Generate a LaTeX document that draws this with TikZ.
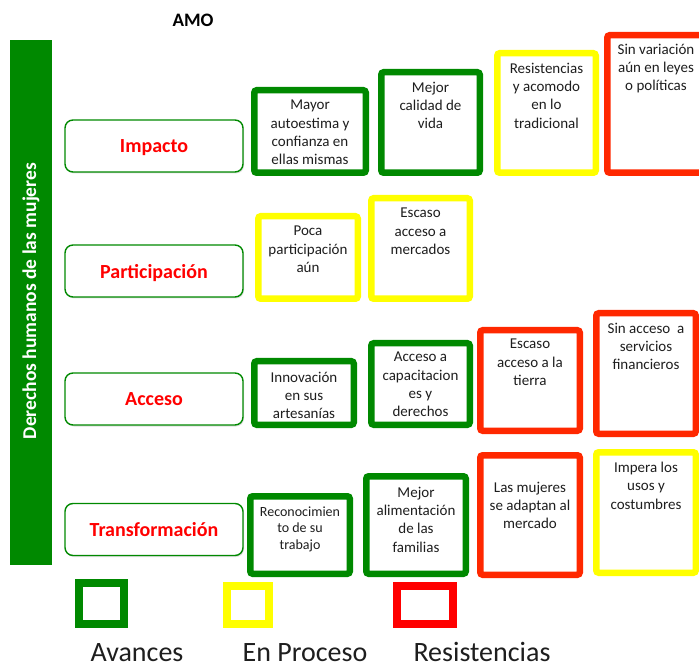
\documentclass[tikz,border=0pt]{standalone}
\usepackage{fontspec}
\setmainfont{Carlito}
\usetikzlibrary{shadows}
\definecolor{cgreen}{RGB}{0,137,0}
\definecolor{cyellow}{RGB}{255,255,0}
\definecolor{cred}{RGB}{255,40,0}
\definecolor{lred}{RGB}{255,0,0}
\definecolor{ctext}{RGB}{30,30,30}
\tikzset{
  sbox/.style={draw=#1, line width=6.5pt, rounded corners=2.5pt, inner sep=0pt, fill=white},
  btext/.style={anchor=north, inner sep=0pt, align=center, text=ctext,
    font=\fontsize{15}{18.2}\selectfont, execute at begin node=\strut},
  btextsm/.style={btext, font=\fontsize{14}{16.6}\selectfont},
  catbox/.style={draw=cgreen, line width=1.4pt, rounded corners=8pt, fill=white,
    minimum width=178pt, minimum height=52pt, inner sep=0pt, text depth=0pt,
    text=lred, font=\bfseries\fontsize{20}{24}\selectfont,
    drop shadow={shadow xshift=1pt, shadow yshift=-1.5pt, opacity=0.25}},
  legbox/.style={draw=#1, line width=8pt, inner sep=0pt},
  legtext/.style={anchor=base, inner sep=0pt, text depth=0pt, text=ctext, font=\fontsize{28}{34}\selectfont}
}
\begin{document}
\begin{tikzpicture}[x=1pt,y=-1pt]
\useasboundingbox (0,0) rectangle (699,668);
\clip (0,0) rectangle (699,668);
% title
\node[inner sep=0pt, font=\bfseries\fontsize{19}{22}\selectfont] (amo) at (193,20) {AMO};
% green bar
\fill[cgreen] (10,40) rectangle (52,565);
\node[rotate=90, inner sep=0pt, text=white, font=\bfseries\fontsize{19.5}{22}\selectfont] (bar) at (31,301) {Derechos humanos de las mujeres};
% categories
\node[catbox] (cimp) at (154,146) {Impacto};
\node[catbox] (cpar) at (154,271) {Participación};
\node[catbox] (cacc) at (154,399) {Acceso};
\node[catbox] (ctra) at (154,529.5) {Transformación};
% Impacto row
\node[sbox=cgreen, minimum width=111.5pt, minimum height=82.5pt] (i1) at (310,131.5) {};
\node[btext] (i1t) at (310,105-5) {Mayor\\autoestima y\\confianza en\\ellas mismas};
\node[sbox=cgreen, minimum width=98.5pt, minimum height=100.5pt] (i2) at (430.5,122.5) {};
\node[btext] (i2t) at (430.5,87-5) {Mejor\\calidad de\\vida};
\node[sbox=cyellow, minimum width=98.5pt, minimum height=119.5pt] (i3) at (546.5,113) {};
\node[btext] (i3t) at (546.5,68-5) {Resistencias\\y acomodo\\en lo\\tradicional};
\node[sbox=cred, minimum width=99.5pt, minimum height=137.5pt] (i4) at (657,104) {};
\node[btext] (i4t) at (656,49-5) {Sin variación\\aún en leyes\\o políticas};
% Participacion row
\node[sbox=cyellow, minimum width=99.5pt, minimum height=82.5pt] (p1) at (308,257.5) {};
\node[btext] (p1t) at (308,231-5) {Poca\\participación\\aún};
\node[sbox=cyellow, minimum width=98.5pt, minimum height=100.5pt] (p2) at (420.5,248.5) {};
\node[btext] (p2t) at (420.5,213-5) {Escaso\\acceso a\\mercados};
% Acceso row
\node[sbox=cgreen, minimum width=99.5pt, minimum height=63.5pt] (a1) at (304,393) {};
\node[btext] (a1t) at (304,377-5) {Innovación\\en sus\\artesanías};
\node[sbox=cgreen, minimum width=98.5pt, minimum height=81.5pt] (a2) at (420.5,384) {};
\node[btext] (a2t) at (420.5,357-5) {Acceso a\\capacitacion\\es y\\derechos};
\node[sbox=cred, minimum width=99.5pt, minimum height=100.5pt] (a3) at (530,380.5) {};
\node[btext] (a3t) at (530,344-5) {Escaso\\acceso a la\\tierra};
\node[sbox=cred, minimum width=99.5pt, minimum height=120.5pt] (a4) at (646,373.5) {};
\node[btext] (a4t) at (646,328-5) {Sin acceso\ \ a\\servicios\\financieros};
% Transformacion row
\node[sbox=cgreen, minimum width=99.5pt, minimum height=77.5pt] (t1) at (300,535) {};
\node[btextsm] (t1t) at (300,511-4.5) {Reconocimien\\to de su\\trabajo};
\node[sbox=cgreen, minimum width=99.5pt, minimum height=97.5pt] (t2) at (416,525) {};
\node[btext] (t2t) at (416,492-5) {Mejor\\alimentación\\de las\\familias};
\node[sbox=cred, minimum width=99.5pt, minimum height=119.5pt] (t3) at (530,515) {};
\node[btext] (t3t) at (530,487-5) {Las mujeres\\se adaptan al\\mercado};
\node[sbox=cyellow, minimum width=99.5pt, minimum height=120.5pt] (t4) at (646,512.5) {};
\node[btext] (t4t) at (646,467-5) {Impera los\\usos y\\costumbres};
% legend
\node[legbox=cgreen, minimum width=45pt, minimum height=41pt] (lg) at (101.5,603.5) {};
\node[legbox=cyellow, minimum width=42pt, minimum height=38pt] (ly) at (248,605) {};
\node[legbox=lred, minimum width=56pt, minimum height=38pt] (lr) at (425,605) {};
\node[legtext] (lgt) at (137,661) {Avances};
\node[legtext] (lyt) at (305,661) {En Proceso};
\node[legtext] (lrt) at (482,661) {Resistencias};
\end{tikzpicture}
\end{document}
